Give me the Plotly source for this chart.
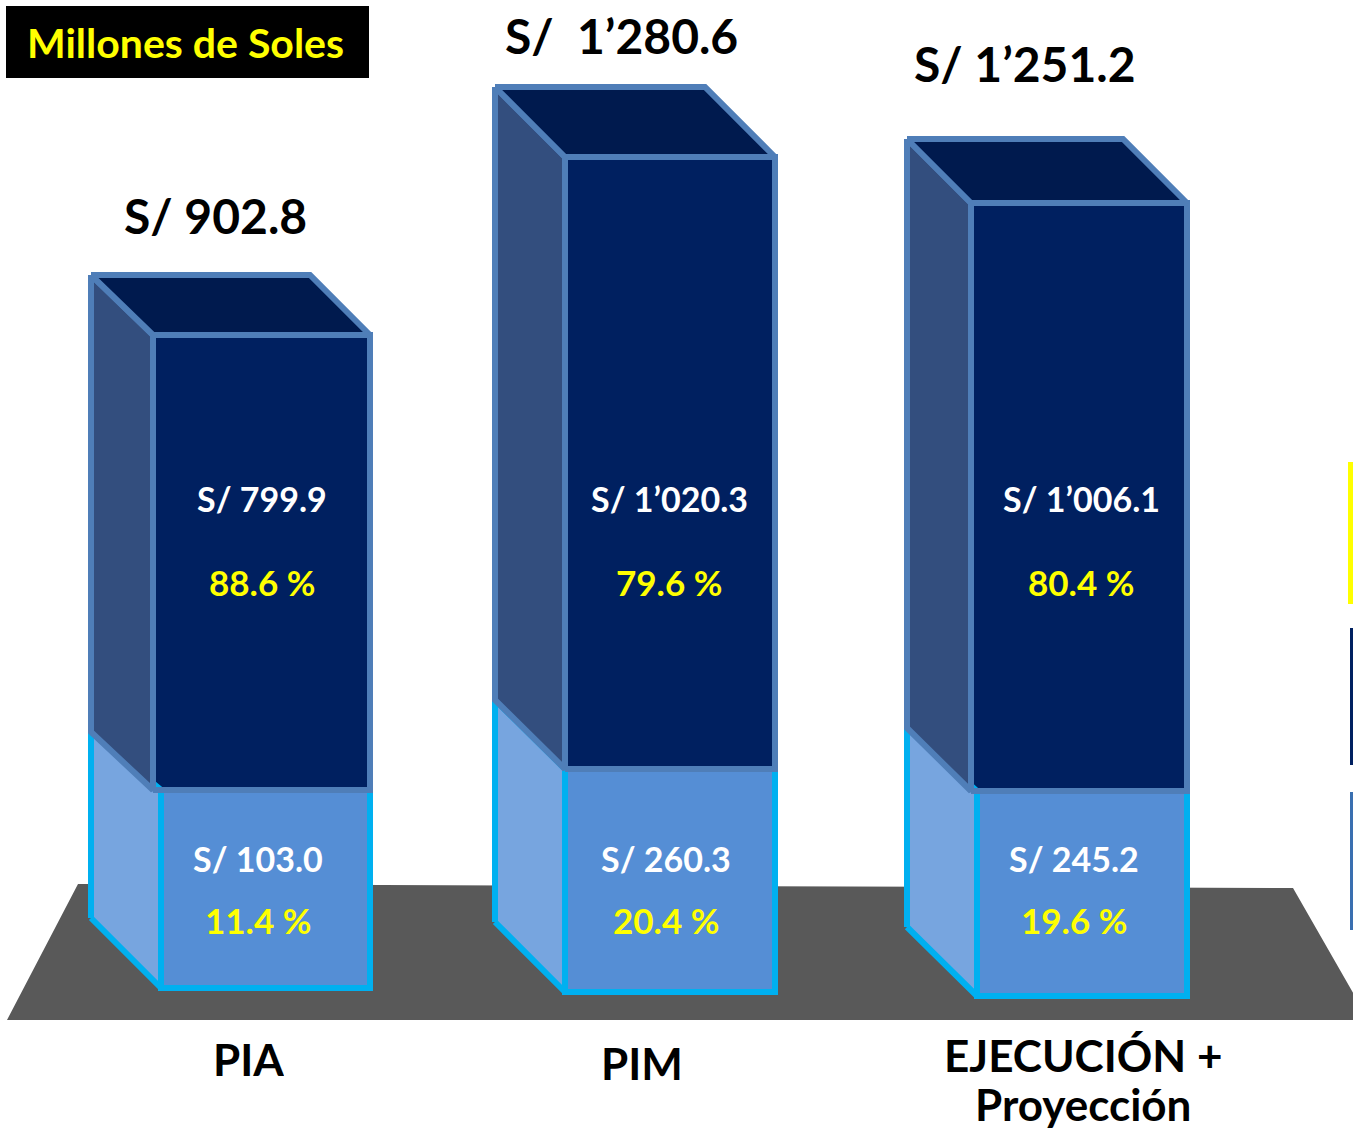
import plotly.graph_objects as go

# ---- data ----
categories = ["PIA", "PIM", "EJECUCIÓN +<br>Proyección"]
total_values = [902.8, 1280.6, 1251.2]
upper_values = [799.9, 1020.3, 1006.1]
lower_values = [103.0, 260.3, 245.2]
upper_shares = [88.6, 79.6, 80.4]
lower_shares = [11.4, 20.4, 19.6]
title_text = "Millones de Soles"

# The reference bars are not drawn to scale, so their heights as drawn are read separately
drawn_floor = [141, 137, 133]
drawn_lower = [198, 223, 205]
drawn_upper = [455, 612, 588]

# ---- layout / geometry (one axis unit = one page pixel) ----
W, H = 1353, 1129
upper_left = [153, 565, 971]
lower_left = [161, 565, 977]
front_right = [370, 775, 1187]
side_left = [91, 495, 907]
top_back_right = [310, 705, 1123]
top_depth = [60, 70, 64]
joint_depth = [58, 69, 63]
floor_depth = [70, 70, 69]

NAVY, NAVY_TOP, NAVY_SIDE, NAVY_EDGE = "#002060", "#001A4E", "#334E7E", "#4F7EB8"
BLUE, BLUE_SIDE, BLUE_EDGE = "#558ED5", "#77A5DF", "#00B0F0"
YELLOW, GROUND = "#FFFF00", "#595959"
FONT = "Lato"
EDGE = 6


def money(v):
    whole, dec = f"{v:.1f}".split(".")
    if len(whole) > 3:
        whole = whole[:-3] + "’" + whole[-3:]
    return f"S/\u00a0{whole}.{dec}"


joint = [f + l for f, l in zip(drawn_floor, drawn_lower)]
top = [j + u for j, u in zip(joint, drawn_upper)]

fig = go.Figure()

# Front faces
fig.add_trace(go.Bar(
    x=[(l + r) / 2 for l, r in zip(lower_left, front_right)],
    width=[r - l for l, r in zip(lower_left, front_right)],
    y=drawn_lower, base=drawn_floor,
    marker=dict(color=BLUE, line=dict(color=BLUE_EDGE, width=EDGE)),
    hoverinfo="skip", showlegend=False))
fig.add_trace(go.Bar(
    x=[(l + r) / 2 for l, r in zip(upper_left, front_right)],
    width=[r - l for l, r in zip(upper_left, front_right)],
    y=drawn_upper, base=joint,
    marker=dict(color=NAVY, line=dict(color=NAVY_EDGE, width=EDGE)),
    hoverinfo="skip", showlegend=False))


def poly(xs, ys, fill, edge):
    fig.add_trace(go.Scatter(
        x=xs + xs[:1], y=ys + ys[:1], mode="lines", fill="toself", fillcolor=fill,
        line=dict(color=edge, width=EDGE), hoverinfo="skip", showlegend=False))


# Side and top faces
for i in range(3):
    poly([side_left[i], lower_left[i], lower_left[i], side_left[i]],
         [drawn_floor[i] + floor_depth[i], drawn_floor[i], joint[i], joint[i] + joint_depth[i]],
         BLUE_SIDE, BLUE_EDGE)
for i in range(3):
    poly([side_left[i], upper_left[i], upper_left[i], side_left[i]],
         [top[i] + top_depth[i], top[i], joint[i], joint[i] + joint_depth[i]],
         NAVY_SIDE, NAVY_EDGE)
    poly([side_left[i], top_back_right[i], front_right[i], upper_left[i]],
         [top[i] + top_depth[i], top[i] + top_depth[i], top[i], top[i]],
         NAVY_TOP, NAVY_EDGE)
    fig.add_trace(go.Scatter(
        x=[upper_left[i], front_right[i]], y=[joint[i], joint[i]], mode="lines",
        line=dict(color=NAVY_EDGE, width=EDGE), hoverinfo="skip", showlegend=False))

# Ground, title box and the legend swatches cut off by the right edge
shapes = [
    dict(type="path", layer="below", line=dict(width=0), fillcolor=GROUND,
         path=f"M 7 {H-1020} L 78 {H-884} L 1293 {H-888} L 1380 {H-1040} L 1353 {H-1020} Z"),
    dict(type="rect", layer="below", line=dict(width=0), fillcolor="#000000",
         x0=6, x1=369, y0=H - 78, y1=H - 6),
    dict(type="rect", layer="below", line=dict(width=0), fillcolor=YELLOW,
         x0=1348, x1=1360, y0=H - 604, y1=H - 462),
    dict(type="rect", layer="below", line=dict(width=0), fillcolor=NAVY,
         x0=1350, x1=1360, y0=H - 765, y1=H - 628),
    dict(type="rect", layer="below", line=dict(width=0), fillcolor="#3A6FB0",
         x0=1350, x1=1360, y0=H - 930, y1=H - 792),
]
for s in shapes:
    s.update(xref="x", yref="y")

anns = []


def label(text, x, y_from_top, size, color, box_height=None):
    anns.append(dict(text=f"<b>{text}</b>", x=x, y=H - y_from_top, xref="x", yref="y",
                     showarrow=False, xanchor="center", yanchor="middle",
                     height=box_height, borderpad=0,
                     font=dict(family=FONT, size=size, color=color)))


total_pos = [(215, 215), (621, 35), (1025, 63)]
upper_x = [262, 669, 1081]
lower_x = [258, 666, 1074]
category_pos = [(248, 1059), (642, 1063), (1083, 1055)]
category_line_gap = 49

label(title_text, 185, 42, 41, YELLOW)
for i in range(3):
    t = money(total_values[i])
    if i == 1:
        t = t.replace("\u00a0", "\u00a0\u00a0")
    label(t, *total_pos[i], 48, "#000000")
    label(money(upper_values[i]), upper_x[i], 498, 34, "#FFFFFF")
    label(f"{upper_shares[i]:.1f} %", upper_x[i], 582, 35, YELLOW)
    label(money(lower_values[i]), lower_x[i], 858, 34, "#FFFFFF")
    label(f"{lower_shares[i]:.1f} %", lower_x[i], 920, 35, YELLOW)
    cx, cy = category_pos[i]
    for k, line in enumerate(categories[i].split("<br>")):
        label(line, cx, cy + k * category_line_gap, 44, "#000000", box_height=48)

fig.update_layout(
    width=W, height=H, margin=dict(l=0, r=0, t=0, b=0),
    paper_bgcolor="#FFFFFF", plot_bgcolor="#FFFFFF",
    barmode="overlay", showlegend=False,
    xaxis=dict(range=[0, W], visible=False, fixedrange=True),
    yaxis=dict(range=[0, H], visible=False, fixedrange=True),
    shapes=shapes, annotations=anns,
)

fig.write_html("out.html", config={"displayModeBar": False},
               post_script="document.body.style.margin='0';document.body.style.overflow='hidden';")
